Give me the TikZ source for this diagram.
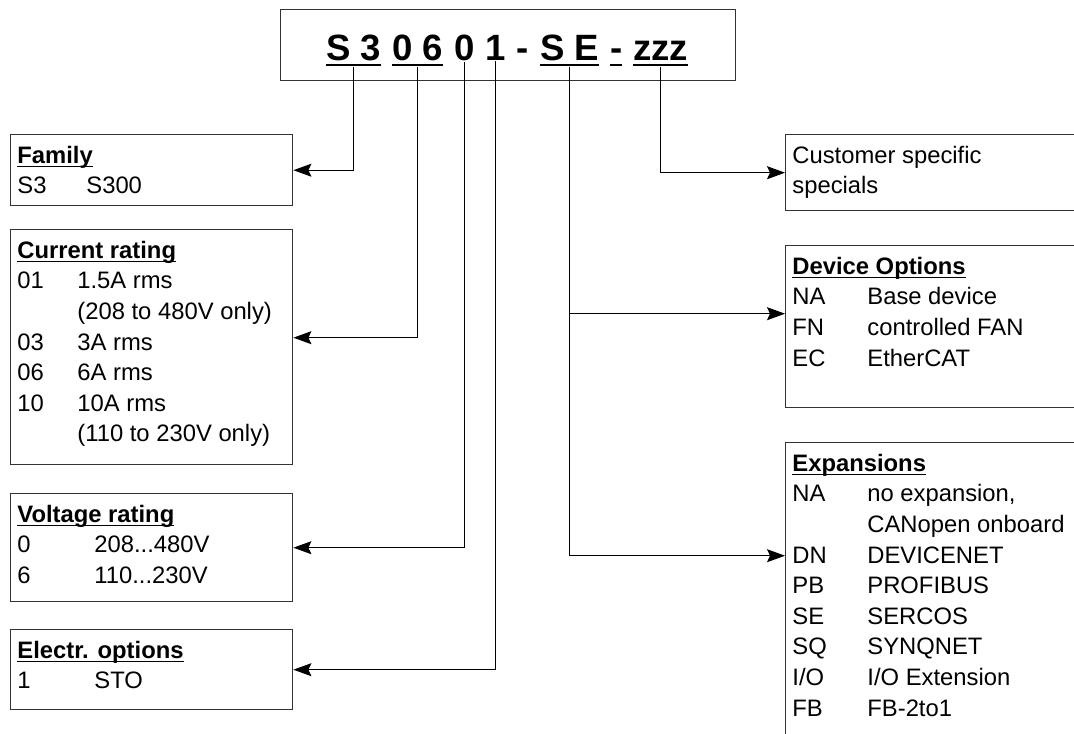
\documentclass[tikz,border=0pt]{standalone}
\usepackage{fontspec}
\setmainfont{Liberation Sans}
\usetikzlibrary{positioning,arrows.meta}

\newcommand{\codeul}[1]{\setbox0\hbox{#1}\rlap{\vrule width\wd0 height-1.3pt depth2pt}\box0}
\newcommand{\titleul}[1]{\setbox0\hbox{#1}\rlap{\vrule width\wd0 height-1.6pt depth2.6pt}\box0}
\newcommand{\coderow}[3]{\makebox[#1][l]{#2}#3}

\tikzset{
    codebox/.style={draw=black!80, line width=0.7pt, anchor=north west, inner sep=0pt, minimum width=141pt},
    sidebox/.style={codebox, minimum width=150pt},
    boxtext/.style={anchor=north west, inner sep=0pt, align=left, font=\fontsize{11.9}{15.3}\selectfont},
    digit/.style={inner sep=0pt, font=\fontsize{18.3}{20}\selectfont\bfseries},
    arr/.style={line width=0.5pt, -{Stealth[length=9pt,width=6.5pt,inset=1.5pt]}}
}

\begin{document}
\begin{tikzpicture}[x=0.5pt,y=-0.5pt]
    \clip (0,0) rectangle (1074,733);

    % Type code
    \node[codebox, minimum width=227.5pt, minimum height=35.5pt] (code) at (280,9) {};
    \node[digit, anchor=base west] (fam) at (326,61) {\titleul{S 3}};
    \node[digit, base right=5.1pt of fam] (cur) {\titleul{0 6}};
    \node[digit, base right=5.1pt of cur] (volt) {0};
    \node[digit, base right=5.1pt of volt] (elec) {1};
    \node[digit, base right=5.1pt of elec] (dash1) {-};
    \node[digit, base right=5.1pt of dash1] (dev) {\titleul{S E}};
    \node[digit, base right=5.1pt of dev] (dash2) {\titleul{-}};
    \node[digit, base right=5.1pt of dash2] (cust) {\titleul{zzz}};

    % Left side
    \node[codebox, minimum height=35.5pt] (fambox) at (10,134) {};
    \node[boxtext, below right=5.8pt and 3.5pt of fambox.north west] (famtxt) {
        \codeul{\textbf{Family}}\\
        \coderow{34.5pt}{S3}{S300}
    };

    \node[codebox, minimum height=117.5pt] (curbox) at (10,229) {};
    \node[boxtext, below right=5.8pt and 3.5pt of curbox.north west] (curtxt) {
        \codeul{\textbf{Current rating}}\\
        \coderow{30pt}{01}{1.5A rms}\\
        \coderow{30pt}{}{(208 to 480V only)}\\
        \coderow{30pt}{03}{3A rms}\\
        \coderow{30pt}{06}{6A rms}\\
        \coderow{30pt}{10}{10A rms}\\
        \coderow{30pt}{}{(110 to 230V only)}
    };

    \node[codebox, minimum height=54pt] (voltbox) at (10,493) {};
    \node[boxtext, below right=5.8pt and 3.5pt of voltbox.north west] (volttxt) {
        \codeul{\textbf{Voltage rating}}\\
        \coderow{38.5pt}{0}{208...480V}\\
        \coderow{38.5pt}{6}{110...230V}
    };

    \node[codebox, minimum height=40pt] (elecbox) at (10,629) {};
    \node[boxtext, below right=5.8pt and 3.5pt of elecbox.north west] (electxt) {
        \codeul{\textbf{Electr. options}}\\
        \coderow{38.5pt}{1}{STO}
    };

    % Right side
    \node[sidebox, minimum height=38pt] (custbox) at (785,134) {};
    \node[boxtext, below right=5.8pt and 3.5pt of custbox.north west] (custtxt) {
        Customer specific\\
        specials
    };

    \node[sidebox, minimum height=81pt] (devbox) at (785,245) {};
    \node[boxtext, below right=5.8pt and 3.5pt of devbox.north west] (devtxt) {
        \codeul{\textbf{Device Options}}\\
        \coderow{37.5pt}{NA}{Base device}\\
        \coderow{37.5pt}{FN}{controlled FAN}\\
        \coderow{37.5pt}{EC}{EtherCAT}
    };

    \node[sidebox, minimum height=160pt] (expbox) at (785,442) {};
    \node[boxtext, below right=5.8pt and 3.5pt of expbox.north west] (exptxt) {
        \codeul{\textbf{Expansions}}\\
        \coderow{37.5pt}{NA}{no expansion,}\\
        \coderow{37.5pt}{}{CANopen onboard}\\
        \coderow{37.5pt}{DN}{DEVICENET}\\
        \coderow{37.5pt}{PB}{PROFIBUS}\\
        \coderow{37.5pt}{SE}{SERCOS}\\
        \coderow{37.5pt}{SQ}{SYNQNET}\\
        \coderow{37.5pt}{I/O}{I/O Extension}\\
        \coderow{37.5pt}{FB}{FB-2to1}
    };

    % Connectors
    \draw[arr] (fam.south) |- (fambox.east);
    \draw[arr] (cur.south) |- ([yshift=4.75pt]curbox.east);
    \draw[arr] (volt.south) |- (voltbox.east);
    \draw[arr] (elec.south) |- (elecbox.east);
    \draw[arr] (dev.south) |- ([yshift=6.5pt]devbox.west);
    \draw[arr] (dev.south) |- ([yshift=23.5pt]expbox.west);
    \draw[arr] (cust.south) |- (custbox.west);
\end{tikzpicture}
\end{document}
